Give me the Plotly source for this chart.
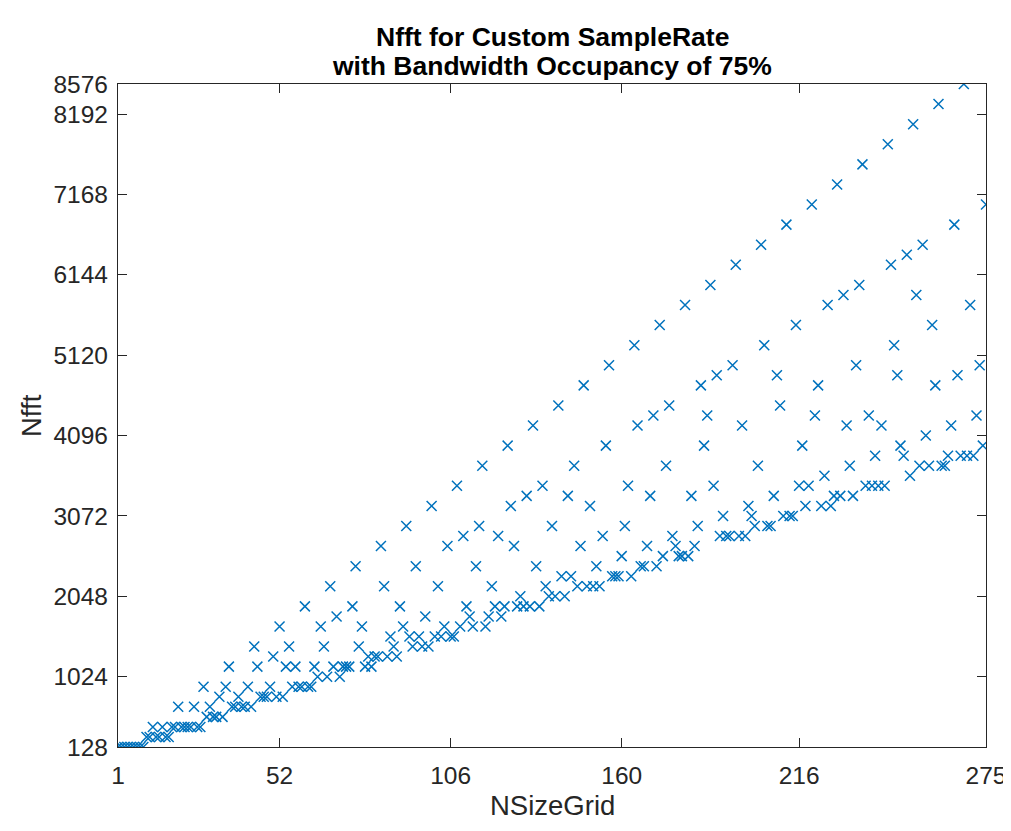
import plotly.graph_objects as go

# ---- data ----
n_size_grid = list(range(1, 276))  # NSizeGrid categories 1..275

nfft = [
    128, 128, 128, 128, 128, 128, 128, 128, 128, 256, 256, 384, 256, 256, 384,
    256, 256, 384, 384, 640, 384, 384, 384, 384, 640, 384, 384, 896, 512, 640,
    512, 512, 768, 512, 896, 1152, 640, 640, 768, 640, 640, 896, 640, 1408, 1152,
    768, 768, 768, 896, 1280, 768, 1664, 768, 1152, 1408, 896, 1152, 896, 896, 1920,
    896, 896, 1152, 1024, 1664, 1408, 1024, 2176, 1152, 1792, 1024, 1152, 1152, 1152, 1920,
    2432, 1408, 1664, 1152, 1280, 1152, 1280, 1280, 2688, 2176, 1280, 1536, 1408, 1280, 1920,
    1664, 2944, 1536, 1408, 2432, 1536, 1408, 1792, 1408, 3200, 1536, 2176, 1536, 1664, 2688,
    1536, 1536, 3456, 1664, 2816, 1920, 1792, 1664, 2432, 2944, 3712, 1664, 1792, 2176, 1920,
    2816, 1792, 1920, 3968, 3200, 2688, 1920, 2048, 1920, 3328, 1920, 4224, 2432, 1920, 3456,
    2176, 2048, 2944, 2048, 4480, 2304, 2048, 3328, 2304, 3712, 2176, 2688, 4736, 2176, 3200,
    2176, 2432, 2176, 2816, 3968, 4992, 2304, 2304, 2304, 2560, 2944, 3456, 2304, 5248, 4224,
    2432, 2432, 2688, 3328, 4352, 2432, 5504, 2560, 3712, 4480, 2816, 2688, 2560, 2560, 5760,
    2560, 3328, 2688, 2944, 4736, 3968, 4352, 6016, 3456, 4864, 2816, 3072, 2816, 2816, 4992,
    6272, 2816, 4224, 2816, 3200, 3072, 2944, 3712, 6528, 5248, 2944, 2944, 3328, 4864, 4480,
    3072, 6784, 3072, 3072, 5504, 3456, 3968, 3200, 3456, 7040, 4352, 4736, 3200, 3584, 5760,
    3200, 3328, 7296, 3328, 5888, 4224, 3712, 3328, 4992, 6016, 7552, 3456, 4352, 3456, 3840,
    3456, 4224, 3456, 7808, 6272, 5248, 4864, 3968, 3840, 6400, 3584, 8064, 5888, 3712, 6528,
    4096, 3712, 5504, 4736, 8320, 3712, 3712, 3840, 4224, 6784, 4864, 3840, 8576, 3840, 5760,
    3840, 4352, 4992, 3968, 7040,
]

x_ticks = [1, 52, 106, 160, 216, 275]
y_ticks = [128, 1024, 2048, 3072, 4096, 5120, 6144, 7168, 8192, 8576]

title_lines = ["Nfft for Custom SampleRate", "with Bandwidth Occupancy of 75%"]
x_label = "NSizeGrid"
y_label = "Nfft"

# ---- figure (page has an 8px body margin) ----
OFF = 8
W, H = 1003, 823
PLOT_L, PLOT_R, PLOT_T, PLOT_B = 118, 986, 84, 747   # page pixels of the axes box
L = PLOT_L - OFF
T = PLOT_T - OFF
R = W - (PLOT_R - OFF)
B = H - (PLOT_B - OFF)


def py(p):  # page pixel from top -> paper y
    return (PLOT_B - p) / (PLOT_B - PLOT_T)


def px(p):  # page pixel from left -> paper x
    return (p - PLOT_L) / (PLOT_R - PLOT_L)


FONT = "Liberation Sans, Arial, Helvetica, sans-serif"
AX = "#262626"
BLUE = "#0072BD"

fig = go.Figure()
fig.add_trace(go.Scatter(
    x=n_size_grid, y=nfft, mode="markers",
    marker=dict(symbol="x-thin", size=10, color=BLUE, line=dict(width=1.5, color=BLUE)),
    hoverinfo="x+y",
))

fig.update_layout(
    width=W, height=H, margin=dict(l=L, r=R, t=T, b=B, autoexpand=False),
    plot_bgcolor="white", paper_bgcolor="white", showlegend=False,
    font=dict(family=FONT, size=24.5, color=AX),
)

axis_common = dict(
    ticks="inside", ticklen=9, tickwidth=1.2, tickcolor=AX,
    showline=True, linecolor=AX, linewidth=1.3, mirror="ticks",
    showgrid=False, zeroline=False, automargin=False,
    tickfont=dict(family=FONT, size=24.5, color=AX),
)
fig.update_xaxes(range=[1, 275], tickvals=x_ticks, ticktext=[str(v) for v in x_ticks],
                 ticklabelstandoff=6, **axis_common)
fig.update_yaxes(range=[128, 8576], tickvals=y_ticks, ticktext=[str(v) for v in y_ticks],
                 ticklabelstandoff=4, **axis_common)

# title (two lines, bold)
fig.add_annotation(text="<b>%s</b>" % title_lines[0], xref="paper", yref="paper",
                   x=0.5, y=py(37), xanchor="center", yanchor="middle", showarrow=False,
                   font=dict(family=FONT, size=26.5, color="#000000"))
fig.add_annotation(text="<b>%s</b>" % title_lines[1], xref="paper", yref="paper",
                   x=0.5, y=py(66), xanchor="center", yanchor="middle", showarrow=False,
                   font=dict(family=FONT, size=26.5, color="#000000"))
# axis labels
fig.add_annotation(text=x_label, xref="paper", yref="paper", x=0.5, y=py(806),
                   xanchor="center", yanchor="middle", showarrow=False,
                   font=dict(family=FONT, size=27.5, color=AX))
fig.add_annotation(text=y_label, xref="paper", yref="paper", x=px(31), y=py(416),
                   xanchor="center", yanchor="middle", textangle=-90, showarrow=False,
                   font=dict(family=FONT, size=27.5, color=AX))

fig.write_html("out.html")
